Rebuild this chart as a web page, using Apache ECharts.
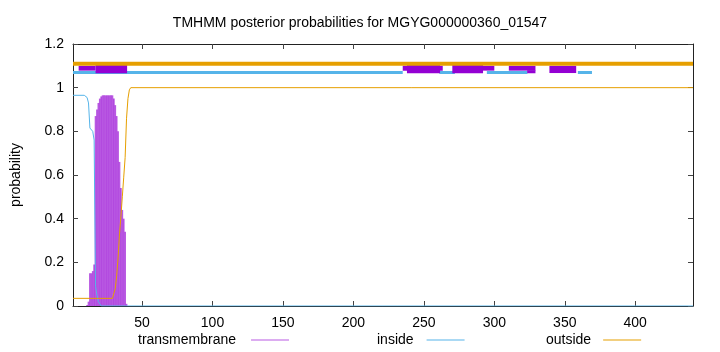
<!DOCTYPE html>
<html><head><meta charset="utf-8">
<script src="https://cdn.jsdelivr.net/npm/echarts@6/dist/echarts.min.js"></script>
<style>html,body{margin:0;padding:0;background:#fff}#c{width:720px;height:352px}</style>
</head><body><div id="c"></div>
<script>
const titleText = 'TMHMM posterior probabilities for MGYG000000360_01547';
const xTicks = [50, 100, 150, 200, 250, 300, 350, 400];
const yTicks = [0, 0.2, 0.4, 0.6, 0.8, 1, 1.2];
const seqStart = 1, seqEnd = 441;

// transmembrane posterior per residue
const tmPos = [11,12,13,14,15,16,17,18,19,20,21,22,23,24,25,26,27,28,29,30,31,32,33,34,35,36,37,38,39];
const tmVal = [0.005,0.02,0.15,0.15,0.16,0.19,0.87,0.90,0.93,0.95,0.96,0.965,0.965,0.965,0.965,0.965,0.965,0.965,0.965,0.95,0.92,0.87,0.80,0.66,0.54,0.44,0.40,0.34,0.01];

// inside posterior
const inX = [1,9,10,11,12,13,14,15,16,17,18,19,20,21,441];
const inY = [0.965,0.965,0.963,0.955,0.93,0.815,0.81,0.80,0.76,0.09,0.05,0.02,0.01,0,0];

// outside posterior
const outX = [1,29,30,31,32,33,34,35,36,37,38,39,40,41,42,441];
const outY = [0.035,0.035,0.04,0.08,0.14,0.22,0.33,0.41,0.50,0.59,0.68,0.86,0.95,0.99,1,1];

// top topology strip
const outsideLevel = 1.11;
const insideLevel = 1.07;
const insideSegs = [[1,235],[261,272],[294.7,323.5],[359.3,369.3]];
// boxes: [x0, x1, yLow, yHigh]
const tmBoxes = [
  [5,17,1.078,1.100],
  [17,39.4,1.066,1.112],
  [235,263.4,1.078,1.100],
  [238,261.5,1.066,1.106],
  [270.2,292,1.066,1.106],
  [291.8,300,1.078,1.100],
  [310.3,329.2,1.078,1.100],
  [323.3,329.2,1.066,1.080],
  [339.1,358.1,1.067,1.100]
];

const FONT = 'Liberation Sans';
const fs = 14;
const purple = '#9400d3', blue = '#56b4e9', orange = '#e69f00';

const insideTop = [];
insideSegs.forEach(s => { insideTop.push([s[0], insideLevel], [s[1], insideLevel], null); });

const chart = echarts.init(document.getElementById('c'));
const axisCommon = {
  axisLine: {show: true, onZero: false, lineStyle: {color: '#222', width: 1}},
  axisTick: {show: true, inside: true, length: 5, lineStyle: {color: '#444'}},
  splitLine: {show: false}
};
function legendItem(name, left, gap) {
  return {data: [name], left: left, top: 333, padding: 0, align: 'right', icon: 'rect', itemWidth: 38, itemHeight: 1,
    textStyle: {fontFamily: FONT, fontSize: fs, color: '#000', padding: [0, gap, 0, 0]}};
}
chart.setOption({
  animation: false,
  backgroundColor: '#fff',
  textStyle: {fontFamily: FONT},
  title: {text: titleText, left: 'center', top: 11,
    textStyle: {fontFamily: FONT, fontSize: fs, fontWeight: 'normal', color: '#000'}},
  grid: {left: 73, right: 27, top: 44, bottom: 46},
  legend: [
    legendItem('transmembrane', 138, 10),
    legendItem('inside', 377, 8),
    legendItem('outside', 546, 7)
  ],
  xAxis: [
    Object.assign({type: 'value', min: seqStart, max: seqEnd, position: 'bottom',
      axisLabel: {customValues: xTicks, color: '#000', fontFamily: FONT, fontSize: fs, margin: 10},
    }, axisCommon, {axisTick: Object.assign({}, axisCommon.axisTick, {customValues: xTicks})}),
    Object.assign({type: 'value', min: seqStart, max: seqEnd, position: 'top',
      axisLabel: {show: false}}, axisCommon, {axisTick: Object.assign({}, axisCommon.axisTick, {customValues: xTicks})})
  ],
  yAxis: [
    Object.assign({type: 'value', min: 0, max: 1.2, position: 'left',
      name: 'probability', nameLocation: 'middle', nameGap: 50, nameRotate: 90,
      nameTextStyle: {fontFamily: FONT, fontSize: fs, color: '#000'},
      axisLabel: {customValues: yTicks, color: '#000', fontFamily: FONT, fontSize: fs, margin: 9}
    }, axisCommon, {axisTick: Object.assign({}, axisCommon.axisTick, {customValues: yTicks})}),
    Object.assign({type: 'value', min: 0, max: 1.2, position: 'right',
      axisLabel: {show: false}}, axisCommon, {axisTick: Object.assign({}, axisCommon.axisTick, {customValues: yTicks})})
  ],
  series: [
    {name: 'insideTop', type: 'line', data: insideTop, symbol: 'none', connectNulls: false,
     lineStyle: {color: blue, width: 3, cap: 'butt'}, z: 2, silent: true},
    {name: 'tmBoxes', type: 'custom', data: tmBoxes, encode: {x: [0, 1], y: [2, 3]}, z: 3, silent: true,
     renderItem: function (params, api) {
       const p0 = api.coord([api.value(0), api.value(3)]);
       const p1 = api.coord([api.value(1), api.value(2)]);
       return {type: 'rect', shape: {x: p0[0], y: p0[1], width: p1[0] - p0[0], height: p1[1] - p0[1]},
               style: {fill: purple}};
     }},
    {name: 'outsideTop', type: 'line', data: [[seqStart, outsideLevel], [seqEnd, outsideLevel]], symbol: 'none',
     lineStyle: {color: orange, width: 4, cap: 'butt'}, z: 4, silent: true},
    {name: 'transmembrane', type: 'bar', data: tmPos.map((x, i) => [x, tmVal[i]]), barWidth: 1.7,
     barGap: '-100%', itemStyle: {color: purple, opacity: 0.65}, z: 3, silent: true},
    {name: 'inside', type: 'line', data: inX.map((x, i) => [x, inY[i]]), symbol: 'none',
     lineStyle: {color: blue, width: 1}, itemStyle: {color: blue}, z: 5, silent: true},
    {name: 'outside', type: 'line', data: outX.map((x, i) => [x, outY[i]]), symbol: 'none',
     lineStyle: {color: orange, width: 1}, itemStyle: {color: orange}, z: 5, silent: true}
  ]
});
</script></body></html>
